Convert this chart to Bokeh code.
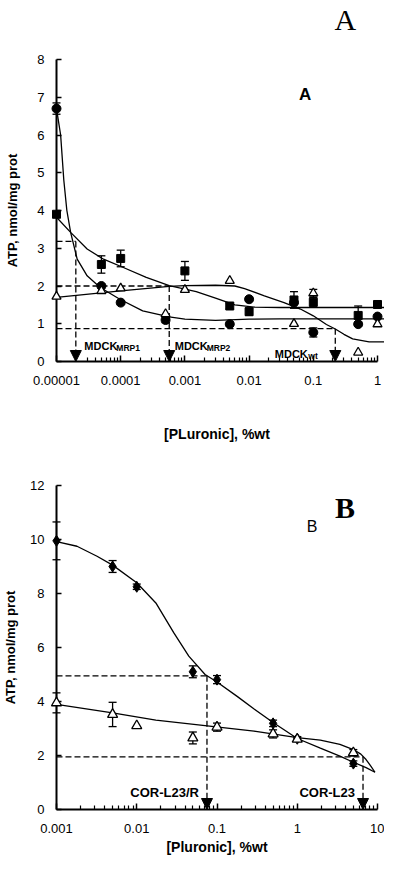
from bokeh.plotting import figure
from bokeh.models import (FixedTicker, Arrow, NormalHead, Label, Range1d)
from bokeh.layouts import column
from bokeh.embed import file_html
from bokeh.resources import INLINE

# ---------------- Panel A data ----------------
a_sq_x = [1e-5, 5e-5, 1e-4, 1e-3, 5e-3, 1e-2, 5e-2, 1e-1, 5e-1, 1.0]
a_sq_y = [3.9, 2.57, 2.73, 2.4, 1.47, 1.32, 1.63, 1.57, 1.22, 1.51]
a_sq_e = [0.05, 0.23, 0.22, 0.25, 0.07, 0.1, 0.22, 0.12, 0.25, 0.05]

a_ci_x = [1e-5, 5e-5, 1e-4, 5e-4, 5e-3, 1e-2, 5e-2, 1e-1, 5e-1, 1.0]
a_ci_y = [6.7, 2.0, 1.56, 1.1, 0.99, 1.65, 1.56, 0.77, 0.99, 1.19]
a_ci_e = [0.15, 0.05, 0.05, 0.07, 0.05, 0.05, 0.05, 0.12, 0.05, 0.05]

a_tr_x = [1e-5, 5e-5, 1e-4, 5e-4, 1e-3, 5e-3, 5e-2, 1e-1, 5e-1, 1.0]
a_tr_y = [1.72, 1.87, 1.94, 1.26, 1.9, 2.14, 1.0, 1.81, 0.24, 0.99]
a_tr_e = [0.0, 0.0, 0.0, 0.0, 0.0, 0.0, 0.0, 0.1, 0.0, 0.0]

a_fit_ci_x = [1e-5, 1.16e-5, 1.3e-5, 1.45e-5, 1.66e-5, 2.1e-5, 3e-5, 4.8e-5, 9.7e-5,
              2.2e-4, 5.7e-4, 1e-3, 3e-3, 1e-2, 3e-2, 1e-1, 1.5]
a_fit_ci_y = [6.7, 6.0, 4.8, 4.0, 3.42, 2.71, 2.27, 1.96, 1.65,
              1.34, 1.18, 1.12, 1.09, 1.12, 1.13, 1.13, 1.13]
a_fit_sq_x = [1e-5, 1.66e-5, 3e-5, 5.4e-5, 1.1e-4, 2.5e-4, 5.7e-4, 1.5e-3, 3e-3,
              6e-3, 1.2e-2, 3e-2, 1e-1, 1.5]
a_fit_sq_y = [3.82, 3.42, 2.98, 2.71, 2.49, 2.23, 2.01, 1.85, 1.68,
              1.5, 1.44, 1.43, 1.43, 1.43]
a_fit_tr_x = [1e-5, 1e-4, 5.7e-4, 1e-3, 3e-3, 6e-3, 8.5e-3, 1.73e-2, 3.5e-2, 6.3e-2,
              1e-1, 1.6e-1, 2.2e-1, 3e-1, 4.1e-1, 7.4e-1, 1.5]
a_fit_tr_y = [1.70, 1.87, 1.99, 2.01, 2.02, 2.0, 1.93, 1.74, 1.56, 1.39,
              1.21, 0.98, 0.86, 0.72, 0.6, 0.52, 0.52]

a_cut_x = [2e-5, 5.7e-4, 0.22]
a_cut_y = [3.18, 2.0, 0.87]

a_xticks = [1e-5, 1e-4, 1e-3, 1e-2, 1e-1, 1.0]
a_xlabels = ["0.00001", "0.0001", "0.001", "0.01", "0.1", "1"]
a_yticks = [0, 1, 2, 3, 4, 5, 6, 7, 8]

# ---------------- Panel B data ----------------
b_x = [0.001, 0.005, 0.01, 0.05, 0.1, 0.5, 1.0, 5.0]
b_di_y = [9.95, 9.0, 8.25, 5.1, 4.81, 3.19, 2.62, 1.7]
b_di_e = [0.7, 0.22, 0.1, 0.22, 0.15, 0.12, 0.08, 0.1]
b_tr_y = [3.95, 3.52, 3.1, 2.65, 3.05, 2.8, 2.6, 2.1]
b_tr_e = [0.37, 0.45, 0.0, 0.22, 0.15, 0.15, 0.08, 0.12]

b_fit_di_x = [0.001, 0.0018, 0.0032, 0.005, 0.01, 0.0173, 0.029, 0.0445, 0.071, 0.1,
              0.18, 0.29, 0.5, 1.0, 1.94, 3.4, 5.0, 7.2, 9.3]
b_fit_di_y = [9.92, 9.75, 9.38, 9.05, 8.4, 7.65, 6.54, 5.68, 5.0, 4.72,
              4.18, 3.72, 3.22, 2.63, 2.27, 1.98, 1.75, 1.55, 1.38]
b_fit_tr_x = [0.001, 0.005, 0.0173, 0.071, 0.29, 1.0, 1.94, 3.4, 5.0, 6.2, 7.2, 8.3, 9.3]
b_fit_tr_y = [3.89, 3.58, 3.31, 3.11, 2.9, 2.66, 2.57, 2.41, 2.22, 2.05, 1.85, 1.6, 1.38]

b_cut_x = [0.075, 6.6]
b_cut_y = [4.95, 1.95]

b_xticks = [0.001, 0.01, 0.1, 1.0, 10.0]
b_xlabels = ["0.001", "0.01", "0.1", "1", "10"]
b_yticks = [0, 2, 4, 6, 8, 10, 12]

SANS = "Liberation Sans"
SERIF = "Liberation Serif"
DASH = "6 3"
TOP = "overlay"   # drawn without clipping to the frame, so marks on the axis stay whole


def minor_ticks(major):
    out = []
    for t in major[:-1]:
        out += [t * m for m in range(2, 10)]
    return out


def style(p, xticks, xlabels, yticks, xlabel, ylabel):
    p.xaxis.ticker = FixedTicker(ticks=xticks, minor_ticks=minor_ticks(xticks))
    p.xaxis.major_label_overrides = dict(zip(xticks, xlabels))
    p.yaxis.ticker = FixedTicker(ticks=yticks, minor_ticks=[])
    p.xgrid.visible = False
    p.ygrid.visible = False
    p.outline_line_color = None
    for ax in p.xaxis + p.yaxis:
        ax.axis_line_color = "black"
        ax.axis_line_width = 2
        ax.major_tick_line_color = "black"
        ax.major_tick_line_width = 1.5
        ax.minor_tick_line_color = "black"
        ax.minor_tick_line_width = 1.2
        ax.major_tick_out = 0
        ax.minor_tick_out = 0
        ax.major_label_text_font = SANS
        ax.major_label_text_font_size = "13px"
        ax.major_label_text_color = "black"
        ax.axis_label_text_font = SANS
        ax.axis_label_text_font_style = "bold"
        ax.axis_label_text_color = "black"
    p.xaxis.major_tick_in = 6
    p.xaxis.minor_tick_in = 4
    p.yaxis.major_tick_in = 5
    p.yaxis.minor_tick_in = 0
    p.xaxis.major_label_standoff = 14
    p.yaxis.major_label_standoff = 12
    p.xaxis.axis_label = xlabel
    p.yaxis.axis_label = ylabel
    p.xaxis.axis_label_text_font_size = "14px"
    p.yaxis.axis_label_text_font_size = "13px"


def errorbars(p, xs, ys, es):
    sel = [(x, y, e) for x, y, e in zip(xs, ys, es) if e > 0]
    bx = [s[0] for s in sel]
    up = [s[1] + s[2] for s in sel]
    lo = [s[1] - s[2] for s in sel]
    p.segment(x0=bx, y0=lo, x1=bx, y1=up, line_color="black", line_width=1.3, level=TOP)
    p.scatter(bx, up, marker="dash", size=8, line_color="black", line_width=1.3, level=TOP)
    p.scatter(bx, lo, marker="dash", size=8, line_color="black", line_width=1.3, level=TOP)


def cutoffs(p, x0, xs, ys):
    p.segment(x0=[x0] * len(xs), y0=ys, x1=xs, y1=ys, line_color="black",
              line_width=1.3, line_dash=DASH)
    for x, y in zip(xs, ys):
        p.add_layout(Arrow(x_start=x, y_start=y, x_end=x, y_end=0,
                           line_color="black", line_width=1.3, line_dash=DASH,
                           end=NormalHead(size=11, fill_color="black",
                                          line_color="black", line_width=1)))


def lab(p, text, x, y, size, align="left", xoff=0, bold=True, font=SANS, place=None):
    lbl = Label(x=x, y=y, text=text, x_offset=xoff, text_align=align,
                text_baseline="alphabetic", text_font=font,
                text_font_size=size, text_color="black",
                text_font_style="bold" if bold else "normal")
    if place is None:
        p.add_layout(lbl)
    else:
        p.add_layout(lbl, place)


# ---------------- Figure A ----------------
pA = figure(width=384, height=452, x_axis_type="log",
            x_range=Range1d(a_xticks[0], a_xticks[-1]), y_range=Range1d(a_yticks[0], a_yticks[-1]),
            min_border_left=51, min_border_right=7, min_border_top=59, min_border_bottom=91,
            output_backend="svg", toolbar_location=None, background_fill_color="white")
style(pA, a_xticks, a_xlabels, a_yticks, "[PLuronic], %wt", "ATP, nmol/mg prot")
pA.xaxis.axis_label_standoff = 38
pA.yaxis.axis_label_standoff = 14

cutoffs(pA, a_xticks[0], a_cut_x, a_cut_y)
for fx, fy in [(a_fit_ci_x, a_fit_ci_y), (a_fit_sq_x, a_fit_sq_y), (a_fit_tr_x, a_fit_tr_y)]:
    pA.line(fx, fy, line_color="black", line_width=1.3, level=TOP)
errorbars(pA, a_sq_x, a_sq_y, a_sq_e)
errorbars(pA, a_ci_x, a_ci_y, a_ci_e)
errorbars(pA, a_tr_x, a_tr_y, a_tr_e)
pA.scatter(a_sq_x, a_sq_y, marker="square", size=8, fill_color="black", line_color="black", level=TOP)
pA.scatter(a_ci_x, a_ci_y, marker="circle", size=9, fill_color="black", line_color="black", level=TOP)
pA.scatter(a_tr_x, a_tr_y, marker="triangle", size=9, fill_color="white",
           line_color="black", line_width=1.3, level=TOP)

lab(pA, "MDCK", a_cut_x[0], 0.415, "11px", xoff=8.5)
lab(pA, "MRP1", a_cut_x[0], 0.37, "8.5px", xoff=40.5)
lab(pA, "MDCK", a_cut_x[1], 0.415, "11px", xoff=5.5)
lab(pA, "MRP2", a_cut_x[1], 0.37, "8.5px", xoff=37.5)
lab(pA, "MDCK", a_cut_x[2], 0.19, "11px", xoff=-60.5)
lab(pA, "wt", a_cut_x[2], 0.15, "8.5px", xoff=-27)
lab(pA, "A", 0.0746, 7.08, "17px", align="center")
lab(pA, "A", 0.315, 9.07, "30px", align="center", bold=False, font=SERIF, place="above")

# ---------------- Figure B ----------------
pB = figure(width=384, height=407, x_axis_type="log",
            x_range=Range1d(b_xticks[0], b_xticks[-1]), y_range=Range1d(b_yticks[0], b_yticks[-1]),
            min_border_left=51, min_border_right=7, min_border_top=33, min_border_bottom=50,
            output_backend="svg", toolbar_location=None, background_fill_color="white")
style(pB, b_xticks, b_xlabels, b_yticks, "[Pluronic], %wt", "ATP, nmol/mg prot")
pB.xaxis.axis_label_standoff = 3
pB.yaxis.axis_label_standoff = 9

cutoffs(pB, b_xticks[0], b_cut_x, b_cut_y)
pB.line(b_fit_di_x, b_fit_di_y, line_color="black", line_width=1.3, level=TOP)
pB.line(b_fit_tr_x, b_fit_tr_y, line_color="black", line_width=1.3, level=TOP)
errorbars(pB, b_x, b_di_y, b_di_e)
errorbars(pB, b_x, b_tr_y, b_tr_e)
pB.scatter(b_x, b_di_y, marker="diamond", size=11, fill_color="black", line_color="black", level=TOP)
pB.scatter(b_x, b_tr_y, marker="triangle", size=10, fill_color="white",
           line_color="black", line_width=1.3, level=TOP)

lab(pB, "COR-L23/R", b_cut_x[0], 0.64, "13px", align="right", xoff=-8)
lab(pB, "COR-L23", b_cut_x[1], 0.64, "13px", align="right", xoff=-8)
lab(pB, "B", 1.53, 10.5, "16px", align="center", bold=False)
lab(pB, "B", 3.94, 11.17, "30px", align="center", font=SERIF)

layout = column(pA, pB, spacing=0)
open("out.html", "w").write(file_html(layout, INLINE))
